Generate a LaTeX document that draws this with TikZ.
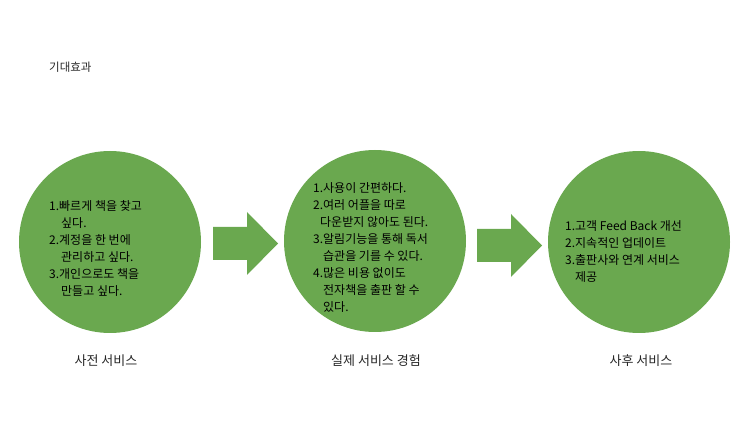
\documentclass[tikz,border=0pt]{standalone}
\usepackage{fontspec}
\setmainfont{Noto Sans CJK KR}
\definecolor{grn}{HTML}{6AA84F}
\definecolor{ttl}{HTML}{262626}
\begin{document}
\begin{tikzpicture}[x=1pt,y=-1pt,
  circ/.style={circle,fill=grn,draw=none,minimum size=182pt,inner sep=0pt},
  arr/.style={fill=grn,draw=none},
  body/.style={anchor=north west,inner sep=0pt,align=left,font=\fontsize{12}{17}\selectfont,text=black},
  lbl/.style={inner sep=0pt,font=\fontsize{13}{15}\selectfont,text=ttl}]
\useasboundingbox (0,0) rectangle (750,435);
\node[lbl,anchor=west,font=\fontsize{11.5}{14}\selectfont] (title) at (49,67) {기대효과};
\node[circ] (c1) at (110,242) {};
\node[circ] (c2) at (375,241) {};
\node[circ] (c3) at (639,242) {};
\fill[arr] (213,227) -- (247,227) -- (247,212) -- (278,243.5) -- (247,275) -- (247,260) -- (213,260) -- cycle;
\fill[arr] (477,229) -- (511,229) -- (511,214) -- (542,245.5) -- (511,277) -- (511,262) -- (477,262) -- cycle;
\node[body] (t1) at (49,200) {1.빠르게 책을 찾고\\\hspace*{12pt}싶다.\\2.계정을 한 번에\\\hspace*{12pt}관리하고 싶다.\\3.개인으로도 책을\\\hspace*{12pt}만들고 싶다.};
\node[body] (t2) at (313,182) {1.사용이 간편하다.\\2.여러 어플을 따로\\\hspace*{7pt}다운받지 않아도 된다.\\3.알림기능을 통해 독서\\\hspace*{10pt}습관을 기를 수 있다.\\4.많은 비용 없이도\\\hspace*{10pt}전자책을 출판 할 수\\\hspace*{10pt}있다.};
\node[body] (t3) at (565,220) {1.고객 Feed Back 개선\\2.지속적인 업데이트\\3.출판사와 연계 서비스\\\hspace*{10pt}제공};
\node[lbl] (l1) at (106,361) {사전 서비스};
\node[lbl] (l2) at (376,361) {실제 서비스 경험};
\node[lbl] (l3) at (641,361) {사후 서비스};
\end{tikzpicture}
\end{document}
